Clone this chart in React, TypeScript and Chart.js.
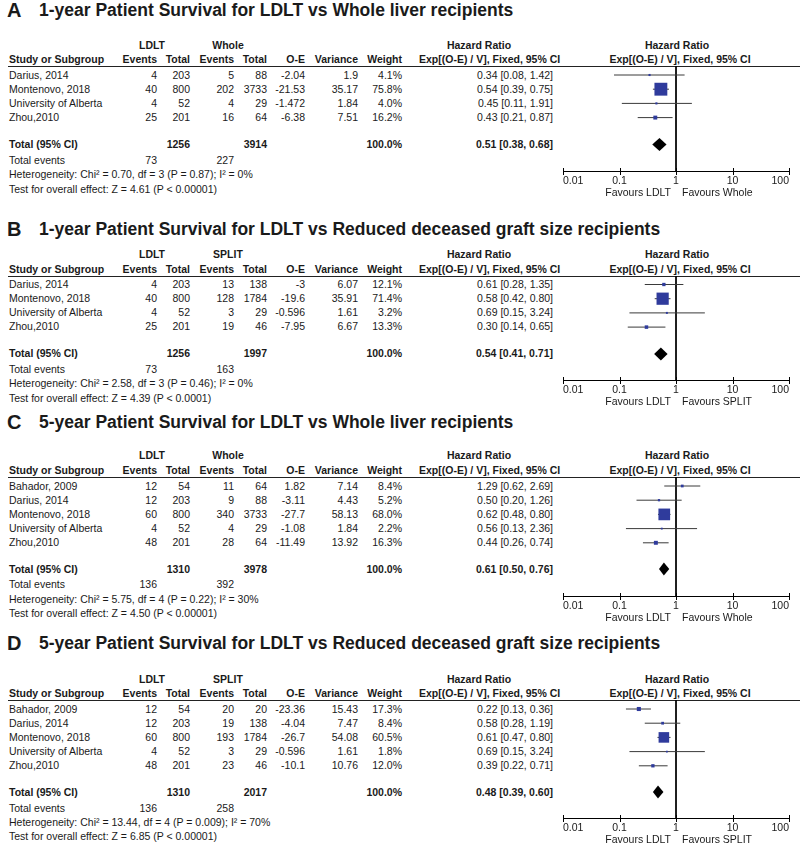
import React, { useEffect, useRef } from 'react';
import { Chart, registerables } from 'chart.js';

Chart.register(...registerables);

const FONT = '"Liberation Sans", Arial, Helvetica, sans-serif';
const TEXT = '#1a1a1a';
const BOX = '#2f3b9c';

// ---------------- Panel A ----------------
const aTitle = '1-year Patient Survival for LDLT vs Whole liver recipients';
const aCtrl = 'Whole';
const aStudies = ['Darius, 2014', 'Montenovo, 2018', 'University of Alberta', 'Zhou,2010'];
const aLdltEvents = [4, 40, 4, 25];
const aLdltTotal = [203, 800, 52, 201];
const aCtrlEvents = [5, 202, 4, 16];
const aCtrlTotal = [88, 3733, 29, 64];
const aOE = [-2.04, -21.53, -1.472, -6.38];
const aVar = [1.9, 35.17, 1.84, 7.51];
const aWeight = [4.1, 75.8, 4.0, 16.2];
const aHR = [0.34, 0.54, 0.45, 0.43];
const aLo = [0.08, 0.39, 0.11, 0.21];
const aHi = [1.42, 0.75, 1.91, 0.87];
const aTotals = [1256, 3914];
const aTotalEvents = [73, 227];
const aTotalHR = [0.51, 0.38, 0.68];
const aHet = 'Heterogeneity: Chi² = 0.70, df = 3 (P = 0.87); I² = 0%';
const aTest = 'Test for overall effect: Z = 4.61 (P < 0.00001)';

// ---------------- Panel B ----------------
const bTitle = '1-year Patient Survival for LDLT vs Reduced deceased graft size recipients';
const bCtrl = 'SPLIT';
const bStudies = ['Darius, 2014', 'Montenovo, 2018', 'University of Alberta', 'Zhou,2010'];
const bLdltEvents = [4, 40, 4, 25];
const bLdltTotal = [203, 800, 52, 201];
const bCtrlEvents = [13, 128, 3, 19];
const bCtrlTotal = [138, 1784, 29, 46];
const bOE = [-3, -19.6, -0.596, -7.95];
const bVar = [6.07, 35.91, 1.61, 6.67];
const bWeight = [12.1, 71.4, 3.2, 13.3];
const bHR = [0.61, 0.58, 0.69, 0.30];
const bLo = [0.28, 0.42, 0.15, 0.14];
const bHi = [1.35, 0.80, 3.24, 0.65];
const bTotals = [1256, 1997];
const bTotalEvents = [73, 163];
const bTotalHR = [0.54, 0.41, 0.71];
const bHet = 'Heterogeneity: Chi² = 2.58, df = 3 (P = 0.46); I² = 0%';
const bTest = 'Test for overall effect: Z = 4.39 (P < 0.0001)';

// ---------------- Panel C ----------------
const cTitle = '5-year Patient Survival for LDLT vs Whole liver recipients';
const cCtrl = 'Whole';
const cStudies = ['Bahador, 2009', 'Darius, 2014', 'Montenovo, 2018', 'University of Alberta', 'Zhou,2010'];
const cLdltEvents = [12, 12, 60, 4, 48];
const cLdltTotal = [54, 203, 800, 52, 201];
const cCtrlEvents = [11, 9, 340, 4, 28];
const cCtrlTotal = [64, 88, 3733, 29, 64];
const cOE = [1.82, -3.11, -27.7, -1.08, -11.49];
const cVar = [7.14, 4.43, 58.13, 1.84, 13.92];
const cWeight = [8.4, 5.2, 68.0, 2.2, 16.3];
const cHR = [1.29, 0.50, 0.62, 0.56, 0.44];
const cLo = [0.62, 0.20, 0.48, 0.13, 0.26];
const cHi = [2.69, 1.26, 0.80, 2.36, 0.74];
const cTotals = [1310, 3978];
const cTotalEvents = [136, 392];
const cTotalHR = [0.61, 0.50, 0.76];
const cHet = 'Heterogeneity: Chi² = 5.75, df = 4 (P = 0.22); I² = 30%';
const cTest = 'Test for overall effect: Z = 4.50 (P < 0.00001)';

// ---------------- Panel D ----------------
const dTitle = '5-year Patient Survival for LDLT vs Reduced deceased graft size recipients';
const dCtrl = 'SPLIT';
const dStudies = ['Bahador, 2009', 'Darius, 2014', 'Montenovo, 2018', 'University of Alberta', 'Zhou,2010'];
const dLdltEvents = [12, 12, 60, 4, 48];
const dLdltTotal = [54, 203, 800, 52, 201];
const dCtrlEvents = [20, 19, 193, 3, 23];
const dCtrlTotal = [20, 138, 1784, 29, 46];
const dOE = [-23.36, -4.04, -26.7, -0.596, -10.1];
const dVar = [15.43, 7.47, 54.08, 1.61, 10.76];
const dWeight = [17.3, 8.4, 60.5, 1.8, 12.0];
const dHR = [0.22, 0.58, 0.61, 0.69, 0.39];
const dLo = [0.13, 0.28, 0.47, 0.15, 0.22];
const dHi = [0.36, 1.19, 0.80, 3.24, 0.71];
const dTotals = [1310, 2017];
const dTotalEvents = [136, 258];
const dTotalHR = [0.48, 0.39, 0.60];
const dHet = 'Heterogeneity: Chi² = 13.44, df = 4 (P = 0.009); I² = 70%';
const dTest = 'Test for overall effect: Z = 6.85 (P < 0.00001)';

// axis ticks
const tickValues = [0.01, 0.1, 1, 10, 100];
const tickLabels = ['0.01', '0.1', '1', '10', '100'];

// ---------------- layout (positions only) ----------------
const ROW = 14.2;
const layouts = [
  { letter: 'A', title: 10, h1: 45, h2: 59, line: 66, row0: 75, total: 144.5, events: 160, het: 174.5, test: 189, axis: 170.7 },
  { letter: 'B', title: 229, h1: 254.5, h2: 269, line: 275.5, row0: 284, total: 353.5, events: 369, het: 383.7, test: 398, axis: 379.7 },
  { letter: 'C', title: 422, h1: 455.5, h2: 470, line: 477, row0: 486, total: 569, events: 584.7, het: 599, test: 613, axis: 595.7 },
  { letter: 'D', title: 643, h1: 679, h2: 693, line: 700, row0: 709, total: 792, events: 808, het: 822, test: 836, axis: 818 },
];
const COL = { study: 9, le: 157, lt: 190, ce: 234, ct: 267, oe: 305, v: 358, w: 402, ci: 553, lgrp: 152, cgrp: 228, hrMid: 479, expLeft: 419, plotMid: 678 };
const CANVAS_LEFT = 556;
const PLOT_LEFT = 563;
const PLOT_RIGHT = 789;
const AXIS_H = 32;

const panels = [
  { title: aTitle, ctrl: aCtrl, studies: aStudies, le: aLdltEvents, lt: aLdltTotal, ce: aCtrlEvents, ct: aCtrlTotal, oe: aOE, v: aVar, w: aWeight, hr: aHR, lo: aLo, hi: aHi, totals: aTotals, tev: aTotalEvents, thr: aTotalHR, het: aHet, test: aTest },
  { title: bTitle, ctrl: bCtrl, studies: bStudies, le: bLdltEvents, lt: bLdltTotal, ce: bCtrlEvents, ct: bCtrlTotal, oe: bOE, v: bVar, w: bWeight, hr: bHR, lo: bLo, hi: bHi, totals: bTotals, tev: bTotalEvents, thr: bTotalHR, het: bHet, test: bTest },
  { title: cTitle, ctrl: cCtrl, studies: cStudies, le: cLdltEvents, lt: cLdltTotal, ce: cCtrlEvents, ct: cCtrlTotal, oe: cOE, v: cVar, w: cWeight, hr: cHR, lo: cLo, hi: cHi, totals: cTotals, tev: cTotalEvents, thr: cTotalHR, het: cHet, test: cTest },
  { title: dTitle, ctrl: dCtrl, studies: dStudies, le: dLdltEvents, lt: dLdltTotal, ce: dCtrlEvents, ct: dCtrlTotal, oe: dOE, v: dVar, w: dWeight, hr: dHR, lo: dLo, hi: dHi, totals: dTotals, tev: dTotalEvents, thr: dTotalHR, het: dHet, test: dTest },
];

type Align = 'left' | 'right' | 'center';
function T({ x, y, text, align = 'left', bold = false, size = 10.5 }: { x: number; y: number; text: string; align?: Align; bold?: boolean; size?: number }) {
  const lh = Math.round(size * 1.4);
  const style: any = {
    position: 'absolute',
    top: y - lh / 2,
    height: lh,
    lineHeight: lh + 'px',
    fontSize: size,
    fontWeight: bold ? 'bold' : 'normal',
    whiteSpace: 'nowrap',
    fontFamily: FONT,
    color: TEXT,
  };
  if (align === 'left') style.left = x;
  else if (align === 'right') style.right = 800 - x;
  else { style.left = x; style.transform = 'translateX(-50%)'; }
  return <div style={style}>{text}</div>;
}

const fmtHR = (h: number, l: number, u: number) => `${h.toFixed(2)} [${l.toFixed(2)}, ${u.toFixed(2)}]`;

function Forest({ p, L }: { p: any; L: any }) {
  const ref = useRef<HTMLCanvasElement>(null);
  const plotH = Math.round(L.axis - L.line);
  const height = plotH + AXIS_H;
  const width = 800 - CANVAS_LEFT;
  useEffect(() => {
    const yMin = (L.line - L.row0) / ROW;
    const yMax = (plotH + L.line - L.row0) / ROW;
    const totalIdx = (L.total - L.row0) / ROW;
    const side = (w: number) => 1.5 + 0.15 * w;
    const ciSets = p.hr.map((_: number, i: number) => ({
      type: 'line',
      data: [{ x: p.lo[i], y: i }, { x: p.hi[i], y: i }],
      borderColor: '#3a3a3a',
      borderWidth: 1,
      pointRadius: 0,
      showLine: true,
    }));
    const plugin = {
      id: 'forestExtras',
      afterDraw(chart: any) {
        const xs = chart.scales.x;
        const ys = chart.scales.y;
        const ctx = chart.ctx;
        const ay = Math.round(chart.chartArea.bottom) + 0.5;
        ctx.save();
        ctx.strokeStyle = '#000';
        ctx.lineWidth = 1;
        xs.ticks.forEach((_: any, i: number) => {
          const px = Math.round(xs.getPixelForTick(i)) + 0.5;
          ctx.beginPath();
          ctx.moveTo(px, ay - 3.5);
          ctx.lineTo(px, ay + 3.5);
          ctx.stroke();
        });
        const ty = ys.getPixelForValue(totalIdx);
        ctx.fillStyle = '#000';
        ctx.beginPath();
        ctx.moveTo(xs.getPixelForValue(p.thr[1]), ty);
        ctx.lineTo(xs.getPixelForValue(p.thr[0]), ty - 6.5);
        ctx.lineTo(xs.getPixelForValue(p.thr[2]), ty);
        ctx.lineTo(xs.getPixelForValue(p.thr[0]), ty + 6.5);
        ctx.closePath();
        ctx.fill();
        const p1 = xs.getPixelForValue(1);
        ctx.font = `10.5px ${FONT}`;
        ctx.fillStyle = TEXT;
        ctx.textBaseline = 'middle';
        ctx.textAlign = 'right';
        ctx.fillText('Favours LDLT', p1 - 5, ay + 22);
        ctx.textAlign = 'left';
        ctx.fillText(`Favours ${p.ctrl}`, p1 + 6, ay + 22);
        ctx.restore();
      },
    };
    const chart = new Chart(ref.current as HTMLCanvasElement, {
      type: 'scatter',
      data: {
        datasets: [
          {
            data: p.hr.map((h: number, i: number) => ({ x: h, y: i })),
            pointStyle: 'rect',
            pointRadius: p.w.map((w: number) => side(w) / (2 * Math.SQRT1_2)),
            backgroundColor: BOX,
            borderWidth: 0,
          },
          ...ciSets,
          {
            type: 'line',
            data: [{ x: 1, y: yMin }, { x: 1, y: yMax }],
            borderColor: '#000',
            borderWidth: 1,
            pointRadius: 0,
            showLine: true,
          },
        ] as any,
      },
      options: {
        animation: false,
        responsive: false,
        events: [],
        layout: { autoPadding: false, padding: { left: PLOT_LEFT - CANVAS_LEFT, right: 800 - PLOT_RIGHT, top: 0, bottom: 0 } },
        plugins: { legend: { display: false }, tooltip: { enabled: false } },
        scales: {
          x: {
            type: 'logarithmic',
            min: 0.01,
            max: 100,
            position: 'bottom',
            afterBuildTicks: (s: any) => { s.ticks = tickValues.map((v) => ({ value: v })); },
            afterFit: (s: any) => { s.height = AXIS_H; },
            ticks: {
              align: 'inner',
              autoSkip: false,
              maxRotation: 0,
              padding: 4,
              color: TEXT,
              font: { family: FONT, size: 10.5 },
              callback: (v: any) => tickLabels[tickValues.indexOf(Number(v))] ?? '',
            },
            grid: { display: false, drawTicks: false },
            border: { display: true, color: '#000', width: 1 },
          },
          y: { type: 'linear', min: yMin, max: yMax, reverse: true, display: false },
        },
      } as any,
      plugins: [plugin],
    });
    return () => chart.destroy();
  }, []);
  return (
    <canvas
      ref={ref}
      width={width}
      height={height}
      style={{ position: 'absolute', left: CANVAS_LEFT, top: L.line, width, height }}
    />
  );
}

function Panel({ p, L }: { p: any; L: any }) {
  const rows = p.studies.map((s: string, i: number) => {
    const y = L.row0 + i * ROW;
    return (
      <React.Fragment key={i}>
        <T x={COL.study} y={y} text={s} />
        <T x={COL.le} y={y} text={String(p.le[i])} align="right" />
        <T x={COL.lt} y={y} text={String(p.lt[i])} align="right" />
        <T x={COL.ce} y={y} text={String(p.ce[i])} align="right" />
        <T x={COL.ct} y={y} text={String(p.ct[i])} align="right" />
        <T x={COL.oe} y={y} text={String(p.oe[i])} align="right" />
        <T x={COL.v} y={y} text={String(p.v[i])} align="right" />
        <T x={COL.w} y={y} text={p.w[i].toFixed(1) + '%'} align="right" />
        <T x={COL.ci} y={y} text={fmtHR(p.hr[i], p.lo[i], p.hi[i])} align="right" />
      </React.Fragment>
    );
  });
  return (
    <>
      <T x={7} y={L.title} text={L.letter} bold size={20} />
      <T x={39} y={L.title} text={p.title} bold size={17.5} />
      <T x={COL.lgrp} y={L.h1} text="LDLT" bold align="center" />
      <T x={COL.cgrp} y={L.h1} text={p.ctrl} bold align="center" />
      <T x={COL.hrMid} y={L.h1} text="Hazard Ratio" bold align="center" />
      <T x={COL.plotMid - 1} y={L.h1} text="Hazard Ratio" bold align="center" />
      <T x={COL.study} y={L.h2} text="Study or Subgroup" bold />
      <T x={COL.le} y={L.h2} text="Events" bold align="right" />
      <T x={COL.lt} y={L.h2} text="Total" bold align="right" />
      <T x={COL.ce} y={L.h2} text="Events" bold align="right" />
      <T x={COL.ct} y={L.h2} text="Total" bold align="right" />
      <T x={COL.oe} y={L.h2} text="O-E" bold align="right" />
      <T x={COL.v} y={L.h2} text="Variance" bold align="right" />
      <T x={COL.w} y={L.h2} text="Weight" bold align="right" />
      <T x={COL.expLeft} y={L.h2} text="Exp[(O-E) / V], Fixed, 95% CI" bold />
      <T x={COL.plotMid + 2} y={L.h2} text="Exp[(O-E) / V], Fixed, 95% CI" bold align="center" />
      <div style={{ position: 'absolute', left: 8, width: 792, top: Math.round(L.line), height: 1, background: '#222' }} />
      {rows}
      <T x={COL.study} y={L.total} text="Total (95% CI)" bold />
      <T x={COL.lt} y={L.total} text={String(p.totals[0])} bold align="right" />
      <T x={COL.ct} y={L.total} text={String(p.totals[1])} bold align="right" />
      <T x={COL.w} y={L.total} text="100.0%" bold align="right" />
      <T x={COL.ci} y={L.total} text={fmtHR(p.thr[0], p.thr[1], p.thr[2])} bold align="right" />
      <T x={COL.study} y={L.events} text="Total events" />
      <T x={COL.le} y={L.events} text={String(p.tev[0])} align="right" />
      <T x={COL.ce} y={L.events} text={String(p.tev[1])} align="right" />
      <T x={COL.study} y={L.het} text={p.het} />
      <T x={COL.study} y={L.test} text={p.test} />
      <Forest p={p} L={L} />
    </>
  );
}

export default function App() {
  return (
    <div style={{ position: 'absolute', left: 0, top: 0, width: 800, height: 846, background: '#fff', overflow: 'hidden' }}>
      {panels.map((p, i) => (
        <Panel key={i} p={p} L={layouts[i]} />
      ))}
    </div>
  );
}
